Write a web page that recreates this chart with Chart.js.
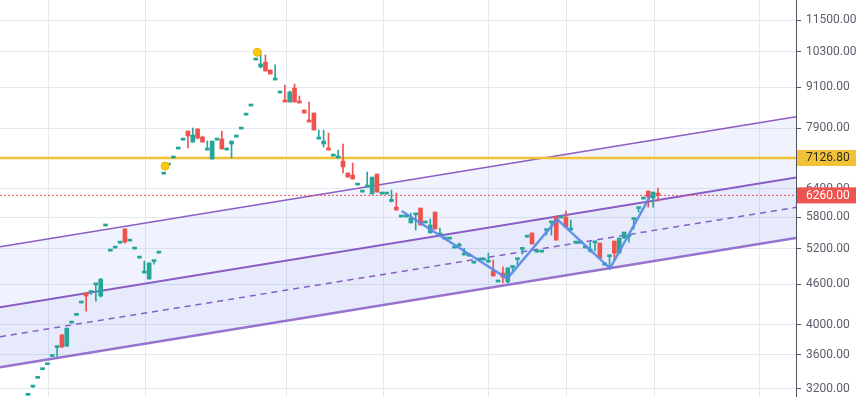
<!DOCTYPE html>
<html>
<head>
<meta charset="utf-8">
<script src="https://cdn.jsdelivr.net/npm/chart.js@4.4.1/dist/chart.umd.min.js"></script>
<style>
  html, body { margin: 0; padding: 0; background: #fff; }
  #wrap { width: 859px; height: 397px; }
</style>
</head>
<body>
<div id="wrap"><canvas id="chart"></canvas></div>
<script>
// candles, one per index
const opens = [3130,3220,3320,3420,3480,3580,3692,3860,3710,4020,
  4130,4310,4460,4470,4590,4415,5630,5160,5215,5305,
  5570,5343,5197,5037,4782,4683,4975,5125,6740,6955,
  7126.8,7352,7584,7825,7530,7879,7663,7326,7100,7584,
  7611,7326,7480,7663,7879,8270,8534,10010,9770,9940,
  9669,9339,8928,8713,8653,9084,8653,8416,8129,8330,
  7611,7480,7378,7175,7126,7052,6765,6717,6488,6332,
  6444,6289,6740,6289,6289,6130,6010,5807,5807,5689,
  5850,5990,5689,5494,5908,5456,5380,5380,5215,5251,
  5090,5071,4950,5002,5002,4967,4816,4636,4782,4636,
  4875,5010,5190,5416,5494,5142,5142,5540,5690,5807,
  5787,5807,5551,5305,5305,5215,5160,5310,5305,4916,
  5060,5343,5125,5398,5425,5757,5980,6181,6355,6203,
  6310];
const highs = [3130,3220,3320,3420,3480,3580,3702,3860,3950,4020,
  4130,4310,4470,4480,4602,4690,5630,5160,5215,5305,
  5580,5343,5197,5037,4985,4960,4985,5125,6740,6955,
  7126.8,7352,7584,7825,7906,7890,7690,7557,7560,7584,
  7825,7378,7560,7663,7879,8270,8534,10010,10327,10186,
  9669,9840,8928,9178,8990,9210,8833,8416,8653,8330,
  7852,7852,7771,7175,7326,7480,6765,7003,6488,6332,
  6788,6670,6740,6289,6289,6377,6310,5807,5807,5888,
  5868,5990,5689,5767,5908,5590,5380,5380,5215,5306,
  5215,5071,4950,5002,5002,5123,5002,4636,4885,4870,
  4885,5020,5197,5416,5494,5142,5142,5551,5707,5827,
  5787,5929,5747,5305,5305,5215,5324,5324,5305,4916,
  5071,5343,5398,5512,5435,5767,5990,6181,6355,6332,
  6422];
const lows = [3130,3220,3320,3420,3480,3580,3580,3695,3710,4020,
  4130,4310,4190,4440,4339,4400,5630,5160,5215,5305,
  5305,5343,5197,5037,4782,4683,4933,5125,6740,6955,
  7126.8,7352,7584,7378,7530,7611,7530,7326,7100,7584,
  7352,7326,7126,7663,7879,8270,8534,10010,9736,9636,
  9536,9339,8928,8653,8653,8653,8623,8330,8073,7852,
  7611,7403,7326,7175,7126,6765,6670,6625,6488,6332,
  6444,6289,6332,6289,6289,6117,5949,5807,5807,5689,
  5551,5648,5689,5494,5570,5456,5380,5380,5215,5251,
  5090,5071,4950,5002,5002,4967,4733,4636,4620,4620,
  4816,4916,5107,5416,5289,5142,5142,5456,5456,5361,
  5787,5610,5551,5305,5305,5215,5142,5160,5037,4916,
  4868,5002,5125,5398,5324,5570,5908,6181,6010,6010,
  6138];
const closes = [3130,3220,3320,3420,3480,3580,3700,3700,3950,4020,
  4130,4310,4415,4478,4600,4683,5630,5160,5215,5305,
  5325,5343,5197,5037,4795,4950,4985,5125,6740,6955,
  7126.8,7352,7584,7690,7717,7637,7530,7340,7557,7584,
  7352,7340,7557,7663,7879,8270,8534,10010,9873,9636,
  9536,9370,8928,8653,8959,8653,8623,8330,8073,7852,
  7630,7557,7326,7175,7140,6908,6670,6625,6488,6332,
  6460,6670,6332,6289,6289,6140,5949,5807,5807,5787,
  5868,5648,5689,5648,5570,5470,5380,5380,5215,5260,
  5100,5071,4950,5002,5002,4980,4733,4636,4716,4868,
  4885,5020,5197,5416,5289,5142,5142,5551,5707,5361,
  5787,5610,5565,5305,5305,5215,5175,5324,5037,4916,
  5071,5125,5398,5512,5435,5767,5990,6181,6226,6332,
  6260];

const yTicks = [3200, 3600, 4000, 4600, 5200, 5800, 6400, 7900, 9100, 10300, 11500];
const gridIdx = [4.2, 24.2, 53.3, 73.3, 95.1, 111.2, 129.2, 151.05];

// channel: values at left and right edge
const channelX = [-5.78, 158.48];
const channelTop = [5239, 8221];
const channelMid = [4247, 6663];
const channelHalf = [3835, 6005];
const channelLow = [3449, 5400];

const zigzagX = [77.1, 98.9, 109.2, 120.1, 128.5];
const zigzagY = [5931, 4690, 5760, 4860, 6265];

const markerX = [28.3, 47.3];
const markerY = [6930, 10281];

const levelPrice = 7126.8;
const lastPrice = closes[closes.length - 1];

const green = '#26a69a';
const red = '#ef5350';
const purple = '#8c5bc4';
const gridColor = '#e4eaf1';
const fontFamily = "Roboto, sans-serif";

const colorOf = ctx => closes[ctx.dataIndex] >= opens[ctx.dataIndex] ? green : red;
const pts = (xs, ys) => xs.map((x, i) => ({ x: x, y: ys[i] }));

const priceLabels = {
  id: 'priceLabels',
  afterDraw(chart) {
    const s = chart.scales.y;
    const ctx = chart.ctx;
    const items = [[levelPrice, '#f3c234', '#2a2a2a'], [lastPrice, red, '#ffffff']];
    ctx.save();
    ctx.font = '12px ' + fontFamily;
    ctx.textBaseline = 'middle';
    items.forEach(it => {
      const py = s.getPixelForValue(it[0]);
      ctx.fillStyle = it[1];
      ctx.fillRect(s.left + 1, py - 8, 59, 16);
      ctx.fillStyle = it[2];
      ctx.fillText(it[0].toFixed(2), s.left + 10, py + 0.5);
    });
    ctx.restore();
  }
};

new Chart(document.getElementById('chart'), {
  type: 'bar',
  data: {
    datasets: [
      {
        type: 'line', order: 20,
        data: pts(channelX, channelTop),
        borderColor: purple, borderWidth: 1.5, pointRadius: 0,
        fill: '+1', backgroundColor: 'rgba(100,130,230,0.097)'
      },
      {
        type: 'line', order: 20,
        data: pts(channelX, channelMid),
        borderColor: purple, borderWidth: 2, pointRadius: 0,
        fill: '+1', backgroundColor: 'rgba(90,110,220,0.145)'
      },
      {
        type: 'line', order: 20,
        data: pts(channelX, channelLow),
        borderColor: 'rgba(140,91,196,0.85)', borderWidth: 2.5, pointRadius: 0, fill: false
      },
      {
        type: 'line', order: 20,
        data: pts(channelX, channelHalf),
        borderColor: purple, borderWidth: 1.5, borderDash: [6, 5], pointRadius: 0, fill: false
      },
      {
        type: 'line', order: 15,
        data: pts(channelX, [levelPrice, levelPrice]),
        borderColor: '#f3c234', borderWidth: 2.5, pointRadius: 0, fill: false
      },
      {
        type: 'line', order: 15,
        data: pts(channelX, [lastPrice, lastPrice]),
        borderColor: red, borderWidth: 1, borderDash: [2, 2], pointRadius: 0, fill: false
      },
      {
        order: 10, grouped: false,
        data: opens.map((o, i) => ({ x: i, y: [lows[i], highs[i]] })),
        backgroundColor: colorOf, barThickness: 1
      },
      {
        order: 9, grouped: false,
        data: opens.map((o, i) => ({ x: i, y: [o, closes[i]] })),
        backgroundColor: colorOf, barThickness: 4, minBarLength: 2
      },
      {
        type: 'line', order: 5,
        data: pts(zigzagX, zigzagY),
        borderColor: 'rgba(86,137,232,0.9)', borderWidth: 2.5, pointRadius: 0, fill: false, tension: 0
      },
      {
        type: 'line', order: 1,
        data: pts(markerX, markerY),
        showLine: false, pointRadius: 4,
        pointBackgroundColor: '#f7cc12', pointBorderColor: '#e8b900', pointBorderWidth: 1
      }
    ]
  },
  options: {
    responsive: true,
    maintainAspectRatio: false,
    animation: false,
    layout: { padding: 0, autoPadding: false },
    plugins: { legend: { display: false }, tooltip: { enabled: false } },
    scales: {
      x: {
        type: 'linear', min: channelX[0], max: channelX[1], offset: false,
        ticks: { display: false },
        grid: { color: gridColor, drawTicks: false, offset: false },
        border: { display: false },
        afterBuildTicks: s => { s.ticks = gridIdx.map(v => ({ value: v })); },
        afterFit: s => { s.height = 0; s.paddingLeft = 0; s.paddingRight = 0; }
      },
      y: {
        type: 'logarithmic', position: 'right', min: 3111, max: 12326,
        ticks: {
          autoSkip: false, padding: 5, color: '#5a5e6b',
          font: { family: fontFamily, size: 12 },
          callback: v => Number(v).toFixed(2)
        },
        grid: { color: gridColor, tickLength: 5, tickColor: '#50535e' },
        border: { color: '#50535e', width: 1 },
        afterBuildTicks: s => { s.ticks = yTicks.map(v => ({ value: v })); },
        afterFit: s => { s.width = 63; s.paddingTop = 0; s.paddingBottom = 0; }
      }
    }
  },
  plugins: [priceLabels]
});
</script>
</body>
</html>
